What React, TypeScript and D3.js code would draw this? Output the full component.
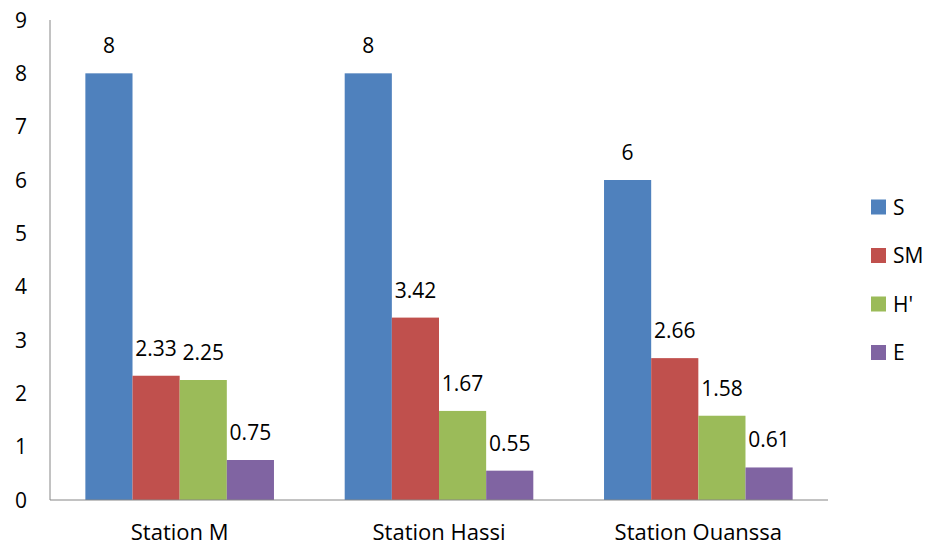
import React from "react";
import * as d3 from "d3";

const categories = ["Station M", "Station Hassi", "Station Ouanssa"];
const seriesNames = ["S", "SM", "H'", "E"];
const sValues = [8, 8, 6];
const smValues = [2.33, 3.42, 2.66];
const hValues = [2.25, 1.67, 1.58];
const eValues = [0.75, 0.55, 0.61];
const yTicks = [0, 1, 2, 3, 4, 5, 6, 7, 8, 9];
const colors = ["#4F81BD", "#C0504D", "#9BBB59", "#8064A2"];

const seriesValues = [sValues, smValues, hValues, eValues];

const W = 930;
const H = 547;
const plot = { left: 50, right: 828, top: 20, bottom: 500 };
const FONT = "'Open Sans', Lato, sans-serif";

export default function App() {
  const x = d3
    .scaleBand<string>()
    .domain(categories)
    .range([plot.left, plot.right])
    .paddingInner(0)
    .paddingOuter(0);
  const groupWidth = x.bandwidth() * (4 / 5.5);
  const x1 = d3
    .scaleBand<string>()
    .domain(seriesNames)
    .range([0, groupWidth]);
  const y = d3.scaleLinear().domain([0, 9]).range([plot.bottom, plot.top]);

  return (
    <svg
      width={W}
      height={H}
      style={{ position: "absolute", left: 0, top: 0, background: "#fff" }}
      fontFamily={FONT}
    >
      {yTicks.map((t) => (
        <text
          key={t}
          x={27}
          y={y(t)}
          dy="0.36em"
          textAnchor="end"
          fontSize={21}
          fill="#000"
        >
          {t}
        </text>
      ))}
      {categories.map((c, ci) => {
        const gx = (x(c) as number) + (x.bandwidth() - groupWidth) / 2;
        return (
          <g key={c}>
            {seriesNames.map((s, si) => {
              const v = seriesValues[si][ci];
              const bx = gx + (x1(s) as number);
              return (
                <g key={s}>
                  <rect
                    x={bx}
                    y={y(v)}
                    width={x1.bandwidth()}
                    height={plot.bottom - y(v)}
                    fill={colors[si]}
                  />
                  <text
                    x={bx + x1.bandwidth() / 2}
                    y={y(v) - 20}
                    textAnchor="middle"
                    fontSize={21}
                    fill="#000"
                  >
                    {v}
                  </text>
                </g>
              );
            })}
            <text
              x={(x(c) as number) + x.bandwidth() / 2}
              y={540}
              textAnchor="middle"
              fontSize={22}
              fill="#000"
            >
              {c}
            </text>
          </g>
        );
      })}
      <line
        x1={plot.left}
        x2={plot.left}
        y1={plot.top}
        y2={plot.bottom}
        stroke="#868686"
        strokeWidth={1}
      />
      <line
        x1={plot.left}
        x2={plot.right}
        y1={plot.bottom}
        y2={plot.bottom}
        stroke="#868686"
        strokeWidth={1}
      />
      {seriesNames.map((s, i) => {
        const ly = 207 + i * 48.5;
        return (
          <g key={s}>
            <rect x={871} y={ly - 7.5} width={15} height={15} fill={colors[i]} />
            <text x={893} y={ly} dy="0.36em" fontSize={21} fill="#000">
              {s}
            </text>
          </g>
        );
      })}
    </svg>
  );
}
